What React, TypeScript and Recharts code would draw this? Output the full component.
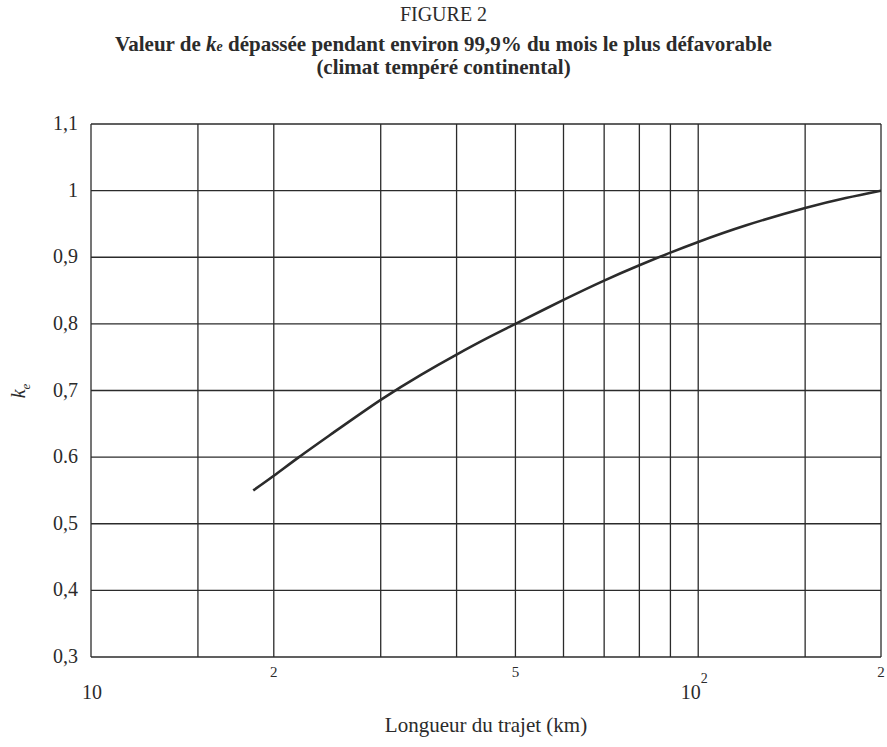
import { LineChart, Line, XAxis, YAxis, CartesianGrid } from "recharts";

// path length (km) vs k_e
const distances = [18.5, 20, 22, 25, 30, 35, 40, 45, 50, 60, 70, 80, 90, 100, 120, 150, 175, 200];
const keValues = [0.55, 0.572, 0.6, 0.636, 0.686, 0.724, 0.754, 0.779, 0.8, 0.836, 0.865, 0.888, 0.907, 0.923, 0.948, 0.974, 0.989, 1.0];

const xTicks = [10, 15, 20, 30, 40, 50, 60, 70, 80, 90, 100, 150, 200];
const yTicks = [0.3, 0.4, 0.5, 0.6, 0.7, 0.8, 0.9, 1.0, 1.1];
const yTickLabels = ["0,3", "0,4", "0,5", "0.6", "0,7", "0,8", "0,9", "1", "1,1"];

const data = distances.map((d, i) => ({ d, ke: keValues[i] }));

const serif = "'Liberation Serif', 'Times New Roman', serif";
const ink = "#2b2b2b";

function XTick({ x, y, payload }: any) {
  const v = payload.value;
  if (v === 10) {
    return (
      <text x={x + 1} y={y + 42} textAnchor="middle" fontSize={20} fontFamily={serif} fill={ink}>
        10
      </text>
    );
  }
  if (v === 100) {
    return (
      <text x={x - 4} y={y + 42} textAnchor="middle" fontSize={20} fontFamily={serif} fill={ink}>
        10
        <tspan dy={-16} fontSize={14}>2</tspan>
      </text>
    );
  }
  if (v === 20 || v === 50 || v === 200) {
    return (
      <text x={x} y={y + 20} textAnchor="middle" fontSize={15} fontFamily={serif} fill={ink}>
        {v === 50 ? "5" : "2"}
      </text>
    );
  }
  return null;
}

function YTick({ x, y, payload }: any) {
  const idx = yTicks.findIndex((t) => Math.abs(t - payload.value) < 1e-6);
  return (
    <text x={x - 13} y={y + 6} textAnchor="end" fontSize={20} fontFamily={serif} fill={ink}>
      {yTickLabels[idx]}
    </text>
  );
}

export default function App() {
  return (
    <div style={{ position: "absolute", left: 0, top: 0, width: 887, height: 747, background: "#fff", fontFamily: serif, color: ink }}>
      <div style={{ position: "absolute", top: 4, width: 887, textAlign: "center", fontSize: 20, lineHeight: "20px" }}>FIGURE 2</div>
      <div style={{ position: "absolute", top: 34, width: 887, textAlign: "center", fontSize: 21, fontWeight: "bold", lineHeight: "20px" }}>
        Valeur de <i>k<span style={{ fontSize: 14 }}>e</span></i> dépassée pendant environ 99,9% du mois le plus défavorable
        <br />
        (climat tempéré continental)
      </div>
      <div
        style={{
          position: "absolute",
          left: 3,
          top: 379,
          width: 30,
          height: 24,
          lineHeight: "24px",
          textAlign: "center",
          fontSize: 20,
          fontStyle: "italic",
          transform: "rotate(-90deg)",
        }}
      >
        k<sub style={{ fontSize: 13 }}>e</sub>
      </div>
      <div style={{ position: "absolute", top: 714, left: 0, width: 972, textAlign: "center", fontSize: 21, lineHeight: "22px" }}>
        Longueur du trajet (km)
      </div>
      <LineChart width={887} height={747} data={data} margin={{ top: 124, right: 6, bottom: 0, left: 0 }}>
        <CartesianGrid stroke={ink} strokeWidth={1.3} horizontalValues={yTicks} verticalValues={xTicks} />
        <XAxis
          dataKey="d"
          type="number"
          scale="log"
          domain={[10, 200]}
          ticks={xTicks}
          allowDataOverflow
          axisLine={false}
          tickLine={false}
          tickSize={0}
          tickMargin={0}
          height={90}
          tick={<XTick />}
          interval={0}
        />
        <YAxis
          type="number"
          domain={[0.3, 1.1]}
          ticks={yTicks}
          allowDataOverflow
          axisLine={false}
          tickLine={false}
          tickSize={0}
          tickMargin={0}
          width={91}
          tick={<YTick />}
          interval={0}
        />
        <Line dataKey="ke" type="natural" stroke={ink} strokeWidth={2.6} dot={false} isAnimationActive={false} />
      </LineChart>
    </div>
  );
}
